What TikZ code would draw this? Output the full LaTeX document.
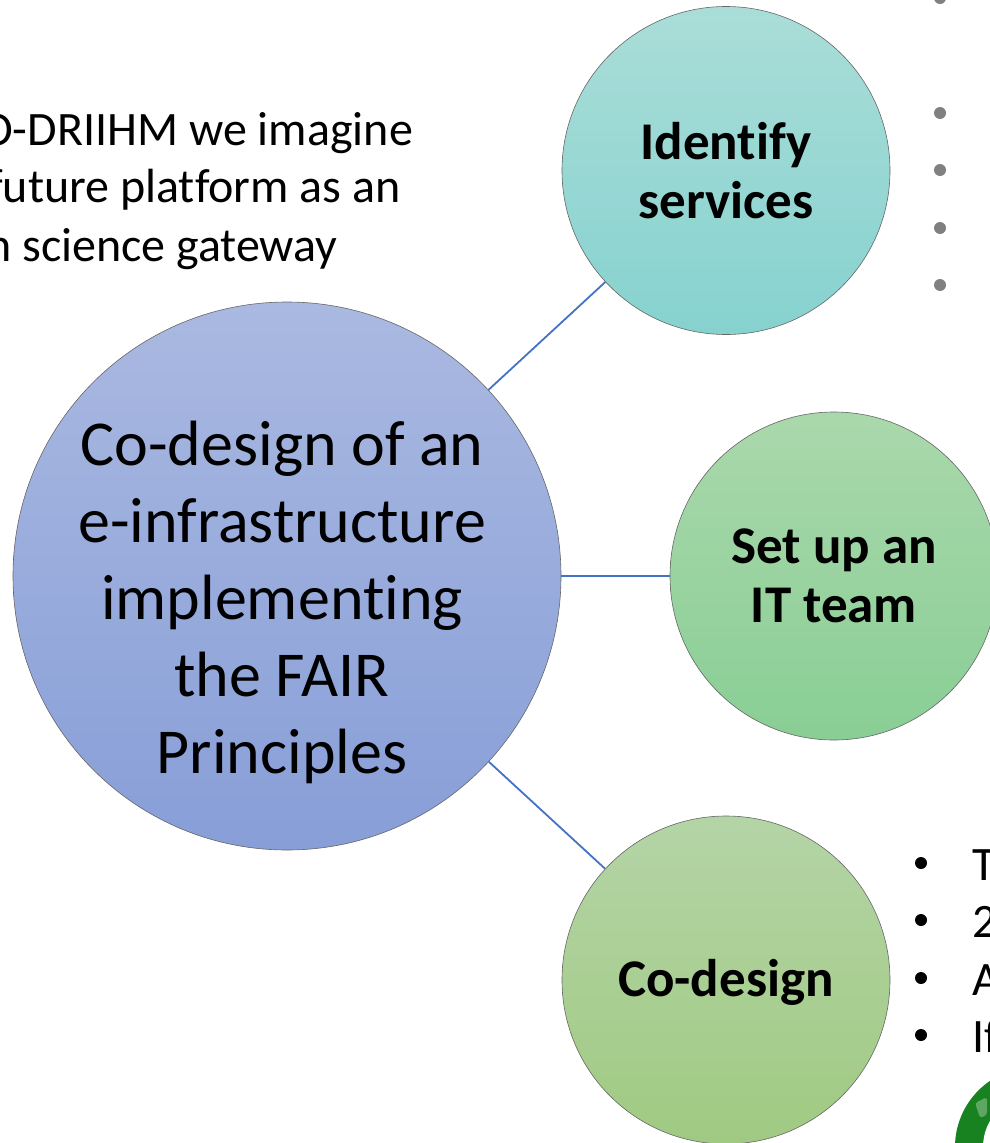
\documentclass[tikz,border=0pt]{standalone}
\usepackage{fontspec}
\setmainfont[Ligatures=NoCommon]{Carlito}

\definecolor{linkblue}{HTML}{4472C4}
\definecolor{ringgreen}{HTML}{17821F}
\tikzset{
    bubble/.style={circle, draw=black!60, line width=0.6pt, align=center, minimum size=328pt, inner sep=0pt},
    biglabel/.style={font=\bfseries\fontsize{53}{58.5}\selectfont},
    bodytext/.style={anchor=base west, inner sep=0pt, font=\fontsize{48}{58}\selectfont},
    blackdot/.style={circle, fill=black, inner sep=0pt, minimum size=12pt},
    greydot/.style={circle, fill=black!50, inner sep=0pt, minimum size=12pt},
    link/.style={draw=linkblue, line width=1.8pt},
}

\begin{document}
\begin{tikzpicture}[x=1pt, y=-1pt]
\useasboundingbox (0,0) rectangle (990,1143);
\clip (0,0) rectangle (990,1143);

% the four circles
\node [bubble, minimum size=548pt, top color={rgb,255:red,170;green,185;blue,225}, bottom color={rgb,255:red,135;green,158;blue,215}] (main) at (287,576) {};
\node [align=center, inner sep=0pt, font=\fontsize{64}{77}\selectfont] (mainlabel) at (282,602)
{Co-design of an\\e-infrastructure\\implementing\\the FAIR\\Principles};
\node [bubble, biglabel, top color={rgb,255:red,170;green,221;blue,216}, bottom color={rgb,255:red,134;green,210;blue,207}] (services) at (726,170.5) {Identify\\services};
\node [bubble, biglabel, top color={rgb,255:red,170;green,216;blue,172}, bottom color={rgb,255:red,137;green,206;blue,149}] (team) at (834,576) {Set up an\\IT team};
\node [bubble, top color={rgb,255:red,180;green,212;blue,166}, bottom color={rgb,255:red,160;green,202;blue,130}] (codesign) at (726,980) {};
\node [biglabel, inner sep=0pt] (codesignlabel) at (726,982) {Co-design};

\draw [link] (main) -- (services);
\draw [link] (main) -- (team);
\draw [link] (main) -- (codesign);

% text cut by the page edge
\node [bodytext] (introa) at (-19,145) {O-DRIIHM we imagine};
\node [bodytext] (introb) at (-12,202) {future platform as an};
\node [bodytext] (introc) at (-14,261) {n science gateway};

% bullets
\foreach \y/\name in {-2/a, 113/b, 170/c, 228/d, 285/e}
    \node [greydot] (grey\name) at (940,\y) {};
\foreach \y/\name/\txt in {863/a/T, 920/b/2, 978/c/A, 1035/d/If}
{
    \node [blackdot] (bullet\name) at (921,\y) {};
    \node [bodytext] (item\name) at (972,\y+17) {\txt};
}

% green ring at the corner
\fill [ringgreen] (1035,1147) circle (80pt);
\fill [white] (1035,1147) circle (52pt);
\fill [white, opacity=0.3, rounded corners=3pt] (975,1103) -- (987,1097) -- (987,1115) -- (980,1118) -- cycle;
\end{tikzpicture}
\end{document}
